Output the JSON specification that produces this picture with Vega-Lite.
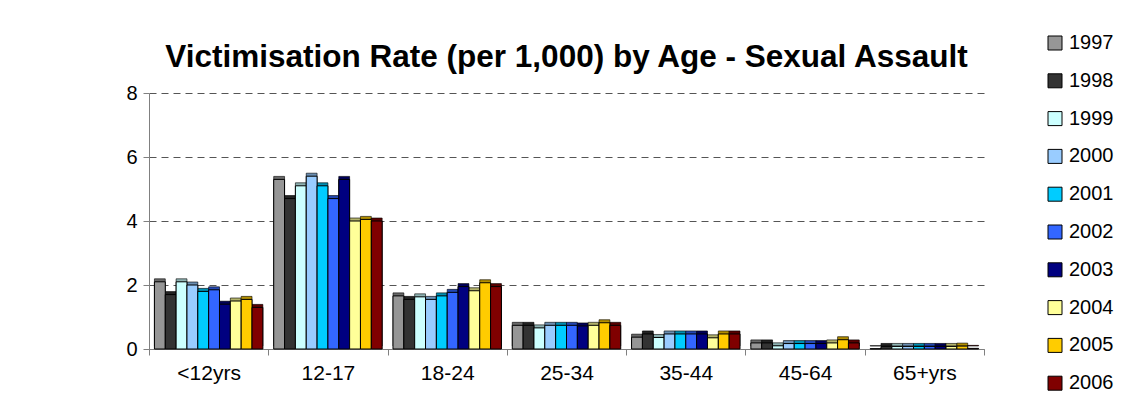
{
  "$schema": "https://vega.github.io/schema/vega-lite/v6.json",
  "width": 835,
  "height": 256,
  "autosize": {"type": "none"},
  "padding": {"left": 149, "top": 93, "right": 151, "bottom": 60},
  "background": "white",
  "title": {
    "text": "Victimisation Rate (per 1,000) by Age - Sexual Assault",
    "font": "Liberation Sans",
    "fontSize": 31.5,
    "fontWeight": "bold",
    "color": "black",
    "anchor": "middle",
    "offset": -40
  },
  "config": {
    "view": {"stroke": null},
    "font": "Liberation Sans"
  },
  "data": {
    "values": [
      {"age": "<12yrs", "year": "1997", "rate": 2.1},
      {"age": "<12yrs", "year": "1998", "rate": 1.7},
      {"age": "<12yrs", "year": "1999", "rate": 2.1},
      {"age": "<12yrs", "year": "2000", "rate": 2.0},
      {"age": "<12yrs", "year": "2001", "rate": 1.8},
      {"age": "<12yrs", "year": "2002", "rate": 1.85},
      {"age": "<12yrs", "year": "2003", "rate": 1.4},
      {"age": "<12yrs", "year": "2004", "rate": 1.5},
      {"age": "<12yrs", "year": "2005", "rate": 1.55},
      {"age": "<12yrs", "year": "2006", "rate": 1.3},
      {"age": "12-17", "year": "1997", "rate": 5.3},
      {"age": "12-17", "year": "1998", "rate": 4.7},
      {"age": "12-17", "year": "1999", "rate": 5.1},
      {"age": "12-17", "year": "2000", "rate": 5.4},
      {"age": "12-17", "year": "2001", "rate": 5.1},
      {"age": "12-17", "year": "2002", "rate": 4.7},
      {"age": "12-17", "year": "2003", "rate": 5.3},
      {"age": "12-17", "year": "2004", "rate": 4.0},
      {"age": "12-17", "year": "2005", "rate": 4.05},
      {"age": "12-17", "year": "2006", "rate": 4.0},
      {"age": "18-24", "year": "1997", "rate": 1.66},
      {"age": "18-24", "year": "1998", "rate": 1.55},
      {"age": "18-24", "year": "1999", "rate": 1.63},
      {"age": "18-24", "year": "2000", "rate": 1.55},
      {"age": "18-24", "year": "2001", "rate": 1.66},
      {"age": "18-24", "year": "2002", "rate": 1.77},
      {"age": "18-24", "year": "2003", "rate": 1.95},
      {"age": "18-24", "year": "2004", "rate": 1.82},
      {"age": "18-24", "year": "2005", "rate": 2.07},
      {"age": "18-24", "year": "2006", "rate": 1.95},
      {"age": "25-34", "year": "1997", "rate": 0.74},
      {"age": "25-34", "year": "1998", "rate": 0.74},
      {"age": "25-34", "year": "1999", "rate": 0.66},
      {"age": "25-34", "year": "2000", "rate": 0.74},
      {"age": "25-34", "year": "2001", "rate": 0.74},
      {"age": "25-34", "year": "2002", "rate": 0.74},
      {"age": "25-34", "year": "2003", "rate": 0.72},
      {"age": "25-34", "year": "2004", "rate": 0.74},
      {"age": "25-34", "year": "2005", "rate": 0.82},
      {"age": "25-34", "year": "2006", "rate": 0.74},
      {"age": "35-44", "year": "1997", "rate": 0.37},
      {"age": "35-44", "year": "1998", "rate": 0.47},
      {"age": "35-44", "year": "1999", "rate": 0.36},
      {"age": "35-44", "year": "2000", "rate": 0.47},
      {"age": "35-44", "year": "2001", "rate": 0.47},
      {"age": "35-44", "year": "2002", "rate": 0.47},
      {"age": "35-44", "year": "2003", "rate": 0.47},
      {"age": "35-44", "year": "2004", "rate": 0.35},
      {"age": "35-44", "year": "2005", "rate": 0.47},
      {"age": "35-44", "year": "2006", "rate": 0.47},
      {"age": "45-64", "year": "1997", "rate": 0.19},
      {"age": "45-64", "year": "1998", "rate": 0.19},
      {"age": "45-64", "year": "1999", "rate": 0.1},
      {"age": "45-64", "year": "2000", "rate": 0.17},
      {"age": "45-64", "year": "2001", "rate": 0.17},
      {"age": "45-64", "year": "2002", "rate": 0.17},
      {"age": "45-64", "year": "2003", "rate": 0.17},
      {"age": "45-64", "year": "2004", "rate": 0.19},
      {"age": "45-64", "year": "2005", "rate": 0.29},
      {"age": "45-64", "year": "2006", "rate": 0.19},
      {"age": "65+yrs", "year": "1997", "rate": 0.01},
      {"age": "65+yrs", "year": "1998", "rate": 0.08},
      {"age": "65+yrs", "year": "1999", "rate": 0.08},
      {"age": "65+yrs", "year": "2000", "rate": 0.08},
      {"age": "65+yrs", "year": "2001", "rate": 0.08},
      {"age": "65+yrs", "year": "2002", "rate": 0.08},
      {"age": "65+yrs", "year": "2003", "rate": 0.08},
      {"age": "65+yrs", "year": "2004", "rate": 0.08},
      {"age": "65+yrs", "year": "2005", "rate": 0.09},
      {"age": "65+yrs", "year": "2006", "rate": 0.02}
    ]
  },
  "encoding": {
    "x": {
      "field": "age",
      "type": "nominal",
      "sort": ["<12yrs", "12-17", "18-24", "25-34", "35-44", "45-64", "65+yrs"],
      "scale": {"paddingInner": 0, "paddingOuter": 0},
      "axis": {
        "title": null,
        "labelAngle": 0,
        "tickBand": "extent",
        "labelFontSize": 21,
        "labelColor": "black",
        "labelPadding": 7,
        "domainColor": "#808080",
        "tickColor": "#808080",
        "tickSize": 6
      }
    },
    "xOffset": {
      "field": "year",
      "type": "nominal",
      "scale": {"paddingInner": 0, "paddingOuter": 0.5}
    },
    "y": {
      "field": "rate",
      "type": "quantitative",
      "scale": {"domain": [0, 8], "nice": false},
      "axis": {
        "title": null,
        "values": [0, 2, 4, 6, 8],
        "labelFontSize": 20,
        "labelColor": "black",
        "labelPadding": 6,
        "domainColor": "#808080",
        "tickColor": "#808080",
        "tickSize": 6,
        "grid": true,
        "gridColor": "#555555",
        "gridDash": [7, 5],
        "gridWidth": 1
      }
    },
    "color": {
      "field": "year",
      "type": "nominal",
      "scale": {
        "domain": ["1997", "1998", "1999", "2000", "2001", "2002", "2003", "2004", "2005", "2006"],
        "range": ["#969696", "#333333", "#CCFFFF", "#99CCFF", "#00CCFF", "#3366FF", "#000080", "#FFFF99", "#FFCC00", "#800000"]
      },
      "legend": {
        "title": null,
        "orient": "none",
        "legendX": 896,
        "legendY": -60,
        "padding": 0,
        "symbolType": "square",
        "symbolSize": 196,
        "symbolStrokeColor": "black",
        "symbolStrokeWidth": 1,
        "symbolOpacity": 1,
        "labelFontSize": 20,
        "labelColor": "black",
        "labelOffset": 4,
        "rowPadding": 17.8
      }
    }
  },
  "layer": [
    {
      "mark": {"type": "bar", "xOffset": 3, "yOffset": -3, "stroke": "black", "strokeWidth": 0.6}
    },
    {
      "mark": {"type": "bar", "xOffset": 3, "yOffset": -3, "color": "black", "opacity": 0.3},
      "encoding": {"color": {"value": "black"}}
    },
    {
      "mark": {"type": "bar", "stroke": "black", "strokeWidth": 1}
    }
  ]
}
